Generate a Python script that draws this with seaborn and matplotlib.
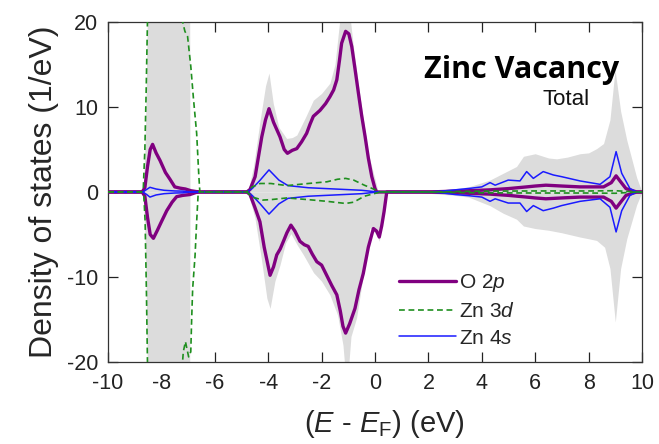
import matplotlib
matplotlib.use("Agg")
import matplotlib.pyplot as plt
import seaborn as sns
import numpy as np
from matplotlib.lines import Line2D

# ---------------- data ----------------
# Total DOS (grey shade), spin up / spin down
total_up_E = [-10, -8.74, -8.68, -8.62, -8.57, -8.52, -8.45, -7.0, -6.95, -6.93,
              -4.8, -4.74, -4.55, -4.3, -4.1, -3.97, -3.81, -3.6, -3.31, -3.1, -2.93,
              -2.6, -2.31, -2.0, -1.69, -1.5, -1.31, -0.93, -0.81, -0.56, -0.25, 0.0, 0.12,
              1.5, 2.0, 3.0, 3.5, 4.3, 4.8, 5.3, 5.56, 6.0, 6.5, 6.8, 7.2, 7.68, 8.0, 8.3,
              8.56, 8.8, 8.99, 9.2, 9.43, 9.8, 10]
total_up = [0, 0, 0.5, 5, 12, 22, 40, 40, 40, 0,
            0, 0.3, 3, 8.5, 12.5, 14.0, 10.4, 7.6, 6.3, 6.4, 6.7,
            8.8, 10.8, 11.6, 12.8, 15, 20.5, 20.5, 17.1, 11.2, 4.5, 1.5, 0,
            0, 0.15, 0.4, 0.6, 1.4, 2.2, 3.0, 4.2, 4.5, 4.0, 3.9, 4.1, 4.5, 4.6, 5.1,
            5.7, 8.5, 14.4, 9.5, 6.1, 1.7, 0]
total_dn_E = [-10, -8.74, -8.68, -8.62, -8.57, -8.52, -8.45, -6.95, -6.93,
              -4.8, -4.74, -4.5, -4.25, -4.05, -3.93, -3.75, -3.56, -3.35, -3.15, -2.9,
              -2.68, -2.3, -2.0, -1.69, -1.4, -1.2, -1.12, -1.0, -0.9, -0.69, -0.45, -0.19,
              0.06, 0.16, 0.3, 0.44, 1.5, 2.0, 3.0, 3.5, 4.3, 4.8, 5.3, 5.56, 6.0, 6.5,
              7.0, 7.68, 8.0, 8.3, 8.6, 8.8, 9.0, 9.2, 9.43, 9.8, 10]
total_dn = [0, 0, -0.5, -5, -12, -22, -40, -40, 0,
            0, -0.3, -3, -8, -12.5, -13.7, -10.5, -8.6, -6.0, -4.9, -6.3,
            -7.4, -9.5, -10.5, -12.1, -14.5, -18, -21, -21, -17, -14.8, -10, -4.2,
            -5.0, -5.8, -3.0, 0, 0, -0.15, -0.4, -0.6, -1.6, -2.5, -3.2, -4.0, -4.3, -4.5,
            -4.8, -5.3, -5.5, -5.7, -6.5, -9, -15.3, -9, -5.5, -1.5, 0]

# O 2p
o2p_up_E = [-10, -8.72, -8.62, -8.52, -8.42, -8.33, -8.2, -8.05, -7.85, -7.68, -7.5,
            -7.3, -7.1, -6.9, -6.7, -6.5, -4.8, -4.68, -4.49, -4.24, -4.1, -3.97, -3.8,
            -3.56, -3.4, -3.28, -3.1, -2.93, -2.75, -2.56, -2.43, -2.31, -2.06, -1.85,
            -1.69, -1.55, -1.43, -1.33, -1.25, -1.1, -0.98, -0.87, -0.75, -0.62, -0.5,
            -0.37, -0.25, -0.12, 0.0, 0.06, 2.0, 2.5, 3.0, 3.5, 4.3, 5.0, 5.68, 6.0, 6.4,
            7.0, 7.68, 8.56, 8.85, 9.03, 9.2, 9.4, 9.8, 10]
o2p_up = [0, 0, 0.5, 3.0, 5.0, 5.6, 4.6, 3.7, 2.3, 1.5, 0.6,
          0.45, 0.35, 0.15, 0.05, 0, 0, 0.3, 1.8, 6.5, 8.5, 9.8, 8.2,
          6.5, 5.0, 4.55, 4.9, 5.1, 5.9, 6.9, 8.0, 8.9, 9.6, 10.4,
          11.2, 12.0, 13.2, 15.5, 17.5, 18.9, 18.6, 17.1, 14.5, 11.6, 9.0,
          6.5, 4.0, 1.8, 0.4, 0, 0, 0.05, 0.1, 0.15, 0.25, 0.4, 0.6, 0.7, 0.8,
          0.7, 0.6, 0.6, 1.1, 1.9, 1.2, 0.4, 0, 0]
o2p_dn_E = [-10, -8.72, -8.62, -8.52, -8.42, -8.3, -8.15, -8.0, -7.8, -7.6, -7.43,
            -7.2, -6.93, -6.7, -6.5, -4.8, -4.68, -4.5, -4.31, -4.15, -3.93, -3.8,
            -3.68, -3.55, -3.43, -3.3, -3.15, -3.0, -2.81, -2.65, -2.5, -2.35, -2.18,
            -2.0, -1.81, -1.62, -1.43, -1.3, -1.2, -1.1, -0.95, -0.75, -0.6, -0.44,
            -0.25, -0.06, 0.06, 0.16, 0.25, 0.34, 0.44, 2.0, 2.5, 3.0, 3.5, 4.3, 5.0,
            5.68, 6.0, 6.4, 7.0, 7.68, 8.56, 8.85, 9.03, 9.2, 9.4, 9.8, 10]
o2p_dn = [0, 0, -0.5, -3.0, -5.0, -5.45, -4.5, -3.5, -2.2, -1.2, -0.55,
          -0.4, -0.3, -0.05, 0, 0, -0.3, -1.8, -3.5, -6.5, -9.8, -8.8,
          -7.4, -6.7, -5.8, -4.8, -3.9, -4.6, -5.8, -6.2, -6.4, -7.3, -8.2,
          -8.6, -9.8, -11.0, -12.1, -14.0, -15.8, -16.6, -15.5, -13.7, -11.5, -9.6,
          -6.5, -4.3, -4.6, -5.3, -4.0, -2.3, 0, 0, -0.05, -0.1, -0.15, -0.25, -0.4,
          -0.6, -0.7, -0.8, -0.7, -0.6, -0.6, -1.1, -1.9, -1.2, -0.4, 0, 0]

# Zn 3d
zn3d_up_E = [-10, -8.75, -8.68, -8.62, -8.57, -8.52, -8.45, -8.2, -7.6, -7.35, -7.24,
             -7.12, -7.02, -6.9, -6.8, -6.68, -6.6, -6.56, -4.8, -4.6, -4.3, -3.9, -3.3,
             -2.5, -1.8, -1.4, -1.1, -0.8, -0.4, -0.17, 0.2, 2.0, 3.0, 4.0, 6.0, 8.0,
             9.0, 9.8, 10]
zn3d_up = [0, 0, 0.3, 5, 12, 20.5, 30, 38, 38, 28, 20.5,
           18.9, 18.3, 14.8, 11, 6.9, 2, 0, 0, 0.6, 1.0, 1.0, 0.75,
           1.0, 1.2, 1.5, 1.6, 1.4, 0.8, 0.5, 0, 0, 0.05, 0.1, 0.12, 0.12,
           0.15, 0, 0]
zn3d_dn_E = [-10, -8.75, -8.66, -8.61, -8.56, -8.52, -8.45, -8.2, -7.6, -7.35, -7.22,
             -7.18, -7.1, -6.98, -6.9, -6.87, -6.83, -6.74, -6.68, -6.62, -4.8, -4.6,
             -4.2, -3.9, -3.3, -2.5, -1.8, -1.1, -0.8, -0.4, 0.2, 2.0, 3.0, 4.0, 6.0,
             8.0, 9.0, 9.8, 10]
zn3d_dn = [0, 0, -0.3, -3.5, -12, -20.5, -30, -38, -38, -28, -20.5,
           -18.8, -17.6, -19.4, -18.8, -15.3, -11.4, -7.5, -3.5, 0, 0, -0.6,
           -0.95, -0.9, -0.7, -0.9, -1.1, -1.35, -1.2, -0.5, 0, 0, -0.05, -0.1, -0.12,
           -0.12, -0.15, 0, 0]

# Zn 4s
zn4s_up_E = [-10, -8.7, -8.55, -8.43, -8.2, -7.9, -7.5, -7.2, -6.9, -4.8, -4.6, -4.3,
             -3.97, -3.6, -3.26, -2.5, -1.5, -0.5, 0.1, 2.0, 2.5, 3.0, 3.56, 4.0, 4.31,
             4.5, 4.99, 5.43, 5.68, 5.93, 6.3, 6.68, 6.99, 7.68, 8.43, 8.8, 9.03, 9.24,
             9.55, 9.8, 10]
zn4s_up = [0, 0, 0.3, 0.55, 0.35, 0.2, 0.12, 0.1, 0, 0, 0.4, 1.4,
           2.6, 1.4, 0.75, 0.5, 0.35, 0.2, 0, 0, 0.1, 0.25, 0.43, 0.6, 1.1,
           0.8, 1.4, 1.3, 2.4, 1.6, 2.4, 2.0, 1.8, 1.3, 0.9, 1.8, 4.75, 2.2,
           0.4, 0, 0]
zn4s_dn_E = zn4s_up_E
zn4s_dn = [0, 0, -0.3, -0.6, -0.35, -0.2, -0.12, -0.1, 0, 0, -0.4, -1.4,
           -2.6, -1.4, -0.75, -0.5, -0.35, -0.2, 0, 0, -0.1, -0.3, -0.45, -0.6, -1.1,
           -0.8, -1.3, -1.3, -2.3, -1.6, -2.2, -1.9, -1.6, -1.1, -0.8, -1.8, -4.7, -2.2,
           -0.4, 0, 0]

x_ticks = [-10, -8, -6, -4, -2, 0, 2, 4, 6, 8, 10]
y_ticks = [-20, -10, 0, 10, 20]
series_labels = ["O 2$\\it{p}$", "Zn 3$\\it{d}$", "Zn 4$\\it{s}$"]

# ---------------- style ----------------
sns.set_theme(style="ticks")
plt.rcParams["font.family"] = ["Liberation Sans", "DejaVu Sans"]
plt.rcParams["mathtext.fontset"] = "custom"
plt.rcParams["mathtext.rm"] = "Liberation Sans"
plt.rcParams["mathtext.it"] = "Liberation Sans:italic"
plt.rcParams["mathtext.bf"] = "Liberation Sans:bold"

fig = plt.figure(figsize=(6.59, 4.44), dpi=100)
ax = fig.add_axes([0.1639, 0.1847, 0.8103, 0.7658])

grey = "#dcdcdc"
purple = "#800080"
green = "#1f8f1f"
blue = "#1a1aff"

ax.fill_between(total_up_E, 0, total_up, color=grey, lw=0, zorder=1)
ax.fill_between(total_dn_E, total_dn, 0, color=grey, lw=0, zorder=1)

sns.lineplot(x=o2p_up_E, y=o2p_up, ax=ax, color=purple, linewidth=2.4,
             sort=False, estimator=None, zorder=3)
sns.lineplot(x=o2p_dn_E, y=o2p_dn, ax=ax, color=purple, linewidth=2.4,
             sort=False, estimator=None, zorder=3)
sns.lineplot(x=zn4s_up_E, y=zn4s_up, ax=ax, color=blue, linewidth=1.1,
             sort=False, estimator=None, zorder=4)
sns.lineplot(x=zn4s_dn_E, y=zn4s_dn, ax=ax, color=blue, linewidth=1.1,
             sort=False, estimator=None, zorder=4)
sns.lineplot(x=zn3d_up_E, y=zn3d_up, ax=ax, color=green, linewidth=1.2,
             linestyle=(0, (3.5, 2.2)), sort=False, estimator=None, zorder=5)
sns.lineplot(x=zn3d_dn_E, y=zn3d_dn, ax=ax, color=green, linewidth=1.2,
             linestyle=(0, (3.5, 2.2)), sort=False, estimator=None, zorder=5)

ax.set_xlim(-10, 10)
ax.set_ylim(-20, 20)
ax.set_xticks(x_ticks)
ax.set_yticks(y_ticks)
ax.set_xticklabels([str(t) for t in x_ticks])
ax.set_yticklabels([str(t) for t in y_ticks])
ax.tick_params(direction="in", length=7.5, width=0.9, top=True, right=True,
               labelsize=15.5, pad=7, colors="#222222")
ax.tick_params(axis="x", pad=8)
for s in ax.spines.values():
    s.set_color("#333333")
    s.set_linewidth(0.9)

ax.set_xlabel("($\\it{E}$ - $\\it{E}_{\\rm{F}}$) (eV)", fontsize=21)
ax.xaxis.set_label_coords(0.517, -0.135)
ax.set_ylabel("Density of states (1/eV)", fontsize=23, labelpad=6)

ax.text(0.957, 0.835, "Zinc Vacancy", transform=ax.transAxes, ha="right",
        va="baseline", fontsize=22, fontweight="bold", family=["Open Sans", "DejaVu Sans"],
        color="black")
ax.text(0.902, 0.756, "Total", transform=ax.transAxes, ha="right",
        va="baseline", fontsize=16, color="#111111")

handles = [Line2D([], [], color=purple, lw=2.4),
           Line2D([], [], color=green, lw=1.2, ls=(0, (3.5, 2.2))),
           Line2D([], [], color=blue, lw=1.1)]
ax.legend(handles, series_labels, loc="upper left", bbox_to_anchor=(0.545, 0.265),
          frameon=False, fontsize=15, handlelength=2.75, handletextpad=0.15,
          labelspacing=0.38, borderpad=0, borderaxespad=0)

fig.savefig("out.png", dpi=100)
